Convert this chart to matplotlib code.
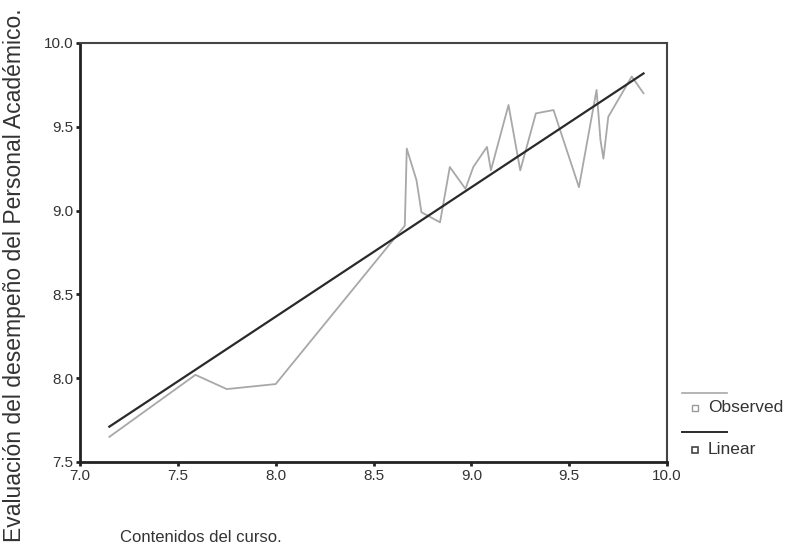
import numpy as np
import matplotlib
matplotlib.use('Agg')
import matplotlib.pyplot as plt
from matplotlib.lines import Line2D

plt.rcParams['font.family'] = ['Liberation Sans', 'DejaVu Sans']

obs_x = [7.15, 7.59, 7.75, 8.00, 8.66, 8.67, 8.72, 8.745, 8.84, 8.89, 8.97, 9.01,
         9.08, 9.10, 9.19, 9.25, 9.33, 9.42, 9.55, 9.64, 9.66, 9.675, 9.70, 9.82, 9.88]
obs_y = [7.65, 8.02, 7.935, 7.965, 8.91, 9.37, 9.18, 8.99, 8.93, 9.26, 9.13, 9.26,
         9.38, 9.24, 9.63, 9.24, 9.58, 9.60, 9.14, 9.72, 9.42, 9.31, 9.56, 9.80, 9.70]

# recta lineal
lin_intercept = 2.191
lin_slope = 0.772

x_ticks = [7.0, 7.5, 8.0, 8.5, 9.0, 9.5, 10.0]
y_ticks = [7.5, 8.0, 8.5, 9.0, 9.5, 10.0]

fig = plt.figure(figsize=(7.87, 5.48), dpi=100)
ax = fig.add_axes([80/787, 1-462/548, (667-80)/787, (462-43)/548])

obs_color = '#a8a8a8'
lin_color = '#2a2a2a'

ax.plot(obs_x, obs_y, color=obs_color, lw=1.3)
lin_x = np.array([min(obs_x), max(obs_x)])
ax.plot(lin_x, lin_intercept + lin_slope * lin_x, color=lin_color, lw=1.6)

ax.set_xlim(7.0, 10.0)
ax.set_ylim(7.5, 10.0)
ax.set_xticks(x_ticks)
ax.set_yticks(y_ticks)
ax.set_xticklabels([f'{t:.1f}' for t in x_ticks])
ax.set_yticklabels([f'{t:.1f}' for t in y_ticks])
ax.tick_params(direction='out', length=3, width=2, color='#222222',
               labelsize=11, labelcolor='#333333', pad=2)

for side in ['left', 'bottom']:
    ax.spines[side].set_linewidth(2)
    ax.spines[side].set_color('#222222')
for side in ['top', 'right']:
    ax.spines[side].set_linewidth(1.5)
    ax.spines[side].set_color('#444444')

fig.text(0.019, 1-275/548, 'Evaluación del desempeño del Personal Académico.',
         rotation=90, ha='center', va='center', fontsize=16.5, color='#333333')
fig.text(120/787, 1-537/548, 'Contenidos del curso.', ha='left', va='center',
         fontsize=12, color='#333333')

# leyenda al estilo SPSS
W, H = 787, 548
fig.add_artist(Line2D([682/W, 727/W], [1-393/H, 1-393/H], color=obs_color, lw=1.2))
fig.add_artist(Line2D([695/W], [1-408/H], marker='s', ms=4.5, mfc='white',
                      mec='#999999', mew=1, ls='none'))
fig.text(708/W, 1-408/H, 'Observed', ha='left', va='center', fontsize=12.5, color='#333333')
fig.add_artist(Line2D([682/W, 727/W], [1-432/H, 1-432/H], color=lin_color, lw=1.4))
fig.add_artist(Line2D([695/W], [1-450/H], marker='s', ms=4.5, mfc='white',
                      mec='#444444', mew=1.2, ls='none'))
fig.text(708/W, 1-450/H, 'Linear', ha='left', va='center', fontsize=12.5, color='#333333')

fig.savefig('out.png', dpi=100)
